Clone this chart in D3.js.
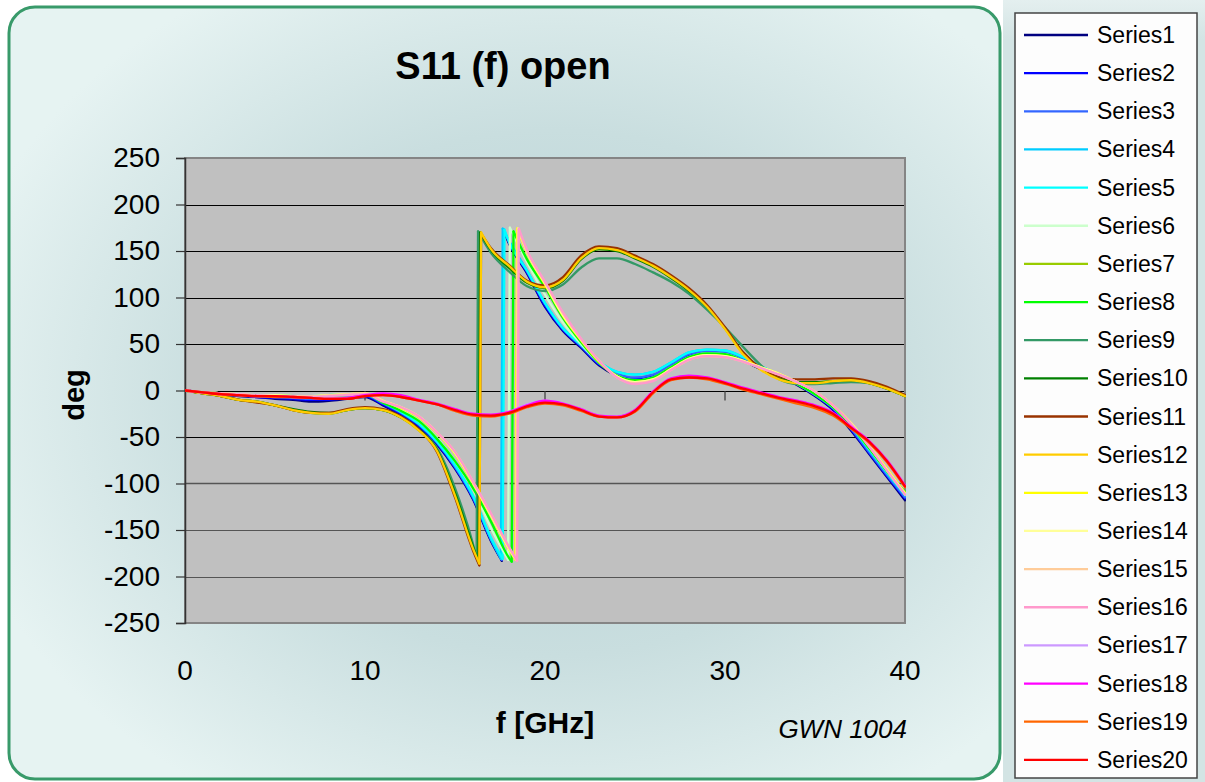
<!DOCTYPE html>
<html><head><meta charset="utf-8">
<script src="https://cdn.jsdelivr.net/npm/d3@7"></script>
<style>
body{margin:0;background:#fff;}
svg{display:block;font-family:"Liberation Sans",Arial,sans-serif;}
</style>
</head><body>
<svg id="chart" width="1205" height="782"></svg>
<script>
// Frequency grid (GHz) shared by all traces
const freqGHz = [0,1,2,3,4,5,6,7,8,9,10,11,12,13,14,15,16,17,18,19,20,21,22,23,24,25,26,27,28,29,30,31,32,33,34,35,36,37,38,39,40];
const yTicks = [250,200,150,100,50,0,-50,-100,-150,-200,-250];
const xTicks = [0,10,20,30,40];

const seriesNames = ["Series1","Series2","Series3","Series4","Series5","Series6","Series7","Series8","Series9","Series10",
  "Series11","Series12","Series13","Series14","Series15","Series16","Series17","Series18","Series19","Series20"];
const seriesColors = ["#000080","#0000ff","#3366ff","#00ccff","#00ffff","#ccffcc","#99cc00","#00ff00","#339966","#008000",
  "#993300","#ffcc00","#ffff00","#ffff99","#ffcc99","#ff99cc","#cc99ff","#ff00ff","#ff6600","#ff0000"];

// Phase in degrees on the frequency grid; null where the phase wraps between samples
const s1  = [0,-2,-4,-6,-7,-9,-10,-12,-11,-9,-7,-16,-26,-39,-58,-84,-117,-162,158,126,90,64,46,27,16,12,15,26,37,40,39,32,23,15,6,-6,-21,-43,-68,-93,-118];
const s2  = [0,-2,-4,-5,-7,-8,-9,-10,-10,-8,-6,-15,-25,-38,-57,-83,-116,-161,159,127,91,65,47,28,17,13,16,27,38,41,40,33,24,16,7,-5,-20,-42,-67,-92,-116];
const s3  = [0,-2,-3,-5,-6,-7,-8,-9,-8,-7,-5,-14,-24,-37,-56,-82,-115,-160,160,128,93,66,48,29,18,14,17,28,39,42,41,34,25,16,7,-5,-19,-41,-66,-91,-115];
const s4  = [0,-2,-3,-4,-5,-6,-6,-6,-5,-4,-4,-13,-23,-36,-55,-81,-114,-160,161,129,94,67,49,31,20,17,20,30,41,44,43,36,26,17,8,-4,-18,-39,-64,-89,-113];
const s5  = [0,-2,-3,-4,-5,-5,-6,-6,-5,-4,-4,-13,-23,-36,-55,-80,-113,-158,160,129,94,67,49,31,20,17,20,30,41,44,43,36,26,17,8,-3,-17,-38,-63,-88,-112];
const s6  = [0,-2,-3,-4,-5,-6,-6,-6,-5,-5,-4,-12,-21,-33,-51,-76,-106,-148,null,138,103,73,50,30,16,11,14,25,36,40,39,32,24,16,7,-4,-18,-38,-62,-87,-110];
const s7  = [0,-3,-6,-10,-12,-16,-21,-24,-25,-21,-19,-21,-29,-43,-64,-111,-169,151,132,116,111,119,142,152,151,143,134,122,108,90,67,40,23,13,9,9,10,11,8,2,-6];
const s8  = [0,-2,-3,-5,-6,-6,-7,-7,-6,-5,-4,-13,-22,-33,-52,-76,-105,-141,-180,141,111,78,52,30,16,11,14,25,36,40,39,32,24,16,7,-4,-18,-38,-62,-87,-109];
const s9  = [0,-3,-6,-10,-12,-16,-21,-24,-25,-21,-19,-21,-28,-42,-62,-105,-165,148,128,112,107,114,132,142,142,136,127,117,104,87,68,47,27,12,7,7,8,9,8,2,-6];
const s10 = [0,-3,-6,-10,-12,-16,-20,-23,-24,-21,-19,-21,-29,-42,-64,-110,-168,151,132,116,110,118,141,152,150,142,133,121,107,90,67,41,23,13,9,9,10,11,8,2,-6];
const s11 = [0,-3,-6,-10,-13,-16,-21,-24,-24,-20,-18,-20,-28,-42,-66,-115,-172,153,135,118,113,122,145,155,153,145,136,124,110,92,68,41,24,15,12,12,13,13,10,4,-5];
const s12 = [0,-3,-6,-10,-12,-16,-21,-24,-25,-21,-19,-21,-29,-43,-65,-113,-170,152,134,117,111,119,142,153,151,143,134,122,108,90,66,39,22,12,8,8,10,11,8,2,-6];
const s13 = [0,-2,-3,-4,-5,-5,-6,-6,-5,-4,-3,-11,-19,-29,-46,-68,-100,-135,-171,148,114,80,54,31,15,9,12,23,34,38,37,32,25,18,9,-1,-16,-35,-59,-84,-110];
const s14 = [0,-2,-3,-4,-5,-5,-6,-6,-5,-4,-3,-11,-18,-28,-45,-67,-99,-134,-170,149,115,81,55,32,15,9,12,23,34,38,37,32,25,18,9,-1,-16,-35,-59,-85,-111];
const s15 = [0,-2,-3,-4,-5,-6,-6,-6,-5,-4,-3,-11,-18,-28,-45,-66,-98,-133,-169,150,116,83,55,32,14,8,11,22,33,37,36,31,24,17,9,-1,-16,-36,-60,-86,-112];
const s16 = [0,-2,-3,-4,-5,-6,-7,-7,-6,-5,-4,-12,-18,-28,-45,-66,-98,-132,-168,151,117,84,56,32,14,7,10,22,33,37,36,31,24,17,9,-1,-16,-36,-60,-86,-112];
const s17 = [0,-2,-4,-5,-6,-6,-7,-8,-8,-8,-6,-4,-6,-10,-15,-21,-26,-27,-23,-15,-11,-14,-21,-28,-29,-22,-2,12,15,13,8,2,-3,-8,-12,-17,-25,-40,-55,-76,-103];
const s18 = [0,-2,-4,-5,-6,-6,-7,-8,-9,-8,-5,-3,-5,-10,-14,-20,-25,-26,-23,-16,-11,-14,-20,-27,-28,-21,-1,13,16,14,9,3,-2,-7,-11,-16,-24,-39,-54,-75,-102];
const s19 = [0,-2,-4,-5,-6,-7,-7,-8,-9,-9,-6,-5,-7,-11,-15,-22,-27,-28,-25,-18,-14,-16,-22,-28,-29,-23,-3,11,14,12,7,1,-4,-9,-14,-19,-27,-41,-56,-77,-104];
const s20 = [0,-2,-4,-5,-6,-6,-7,-8,-9,-9,-6,-5,-7,-11,-15,-21,-26,-27,-24,-17,-13,-15,-21,-28,-29,-22,-2,12,14,13,8,2,-3,-8,-12,-17,-25,-40,-55,-76,-103];

// Phase wrap of each trace: [f before, deg before, f after, deg after]
const wraps = [
  [17.6,-183,17.7,172],[17.6,-182,17.7,173],[17.6,-182,17.7,173],[17.55,-181,17.65,174],[17.65,-181,17.75,173],
  [17.95,-182,18.05,175],[16.3,-185,16.4,169],[18.15,-184,18.25,171],[16.2,-180,16.28,171],[16.3,-184,16.4,170],
  [16.35,-188,16.45,169],[16.35,-186,16.45,170],[18.35,-182,18.45,174],[18.4,-182,18.5,174],[18.4,-182,18.5,173],
  [18.45,-183,18.55,174],null,null,null,null
];

const seriesValues = [s1,s2,s3,s4,s5,s6,s7,s8,s9,s10,s11,s12,s13,s14,s15,s16,s17,s18,s19,s20];

const svg = d3.select("#chart");
const defs = svg.append("defs");

// chart-area background
const rg = defs.append("radialGradient").attr("id","bgGrad")
  .attr("cx","0.55").attr("cy","0.5").attr("r","0.62");
rg.append("stop").attr("offset","0").attr("stop-color","#b4cfd3");
rg.append("stop").attr("offset","0.55").attr("stop-color","#c9dedf");
rg.append("stop").attr("offset","1").attr("stop-color","#e6f3f2");

const lg = defs.append("linearGradient").attr("id","panelGrad").attr("x1",0).attr("x2",0).attr("y1",0).attr("y2",1);
lg.append("stop").attr("offset","0").attr("stop-color","#e4efef");
lg.append("stop").attr("offset","0.05").attr("stop-color","#d3e4e4");
lg.append("stop").attr("offset","1").attr("stop-color","#d3e4e4");

svg.append("rect").attr("x",1003).attr("y",0).attr("width",202).attr("height",782).attr("fill","url(#panelGrad)");

svg.append("rect").attr("x",9).attr("y",7).attr("width",991).attr("height",772)
  .attr("rx",26).attr("ry",26)
  .attr("fill","url(#bgGrad)").attr("stroke","#389a6a").attr("stroke-width",3);

// plot area
const plot = {left:185, right:905, top:158, bottom:623};
const x = d3.scaleLinear().domain([0,40]).range([plot.left, plot.right]);
const y = d3.scaleLinear().domain([-250,250]).range([plot.bottom, plot.top]);

svg.append("rect").attr("x",plot.left).attr("y",plot.top)
  .attr("width",plot.right-plot.left).attr("height",plot.bottom-plot.top).attr("fill","#c0c0c0");

// horizontal gridlines
svg.append("g").selectAll("line").data(yTicks.filter(d => d > -250 && d < 250)).join("line")
  .attr("x1",plot.left).attr("x2",plot.right)
  .attr("y1",d => Math.round(y(d))+0.5).attr("y2",d => Math.round(y(d))+0.5)
  .attr("stroke",d => d >= -50 ? "#000" : "#555")
  .attr("stroke-width",d => d === -100 ? 1.6 : 1.2);

// plot border
svg.append("rect").attr("x",plot.left).attr("y",plot.top)
  .attr("width",plot.right-plot.left).attr("height",plot.bottom-plot.top)
  .attr("fill","none").attr("stroke","#858585").attr("stroke-width",2);

// y axis
const yAxis = d3.axisLeft(y).tickValues(yTicks).tickSize(9).tickPadding(16).tickFormat(d => String(d));
const gy = svg.append("g").attr("transform",`translate(${plot.left},0)`).call(yAxis);
gy.select(".domain").attr("stroke","#333").attr("stroke-width",1.5);
gy.selectAll(".tick line").attr("stroke","#333").attr("stroke-width",1.2);
gy.selectAll(".tick text").attr("font-size",28).attr("fill","#000")
  .attr("font-family","Liberation Sans, Arial, sans-serif");

// x axis ticks on the zero line, labels along the bottom
const y0 = Math.round(y(0))+0.5;
svg.append("g").selectAll("line").data(xTicks.filter(d => d > 0 && d < 40)).join("line")
  .attr("x1",d => x(d)).attr("x2",d => x(d)).attr("y1",y0).attr("y2",y0+9)
  .attr("stroke","#555").attr("stroke-width",1.5);
svg.append("g").selectAll("text").data(xTicks).join("text")
  .attr("x",d => x(d)).attr("y",680).attr("text-anchor","middle")
  .attr("font-size",28).attr("fill","#000").text(d => String(d));

// traces
const clip = defs.append("clipPath").attr("id","plotClip");
clip.append("rect").attr("x",plot.left).attr("y",plot.top-4)
  .attr("width",plot.right-plot.left+1).attr("height",plot.bottom-plot.top+8);

const line = d3.line().x(d => x(d[0])).y(d => y(d[1])).curve(d3.curveMonotoneX);

const traces = svg.append("g").attr("clip-path","url(#plotClip)");
seriesValues.forEach((vals, i) => {
  const w = wraps[i];
  const pts = freqGHz.map((f, k) => [f, vals[k]]).filter(p => p[1] !== null);
  const g = traces.append("g");
  const style = sel => sel.attr("fill","none").attr("stroke",seriesColors[i])
    .attr("stroke-width",2.3).attr("stroke-linejoin","round").attr("stroke-linecap","round");
  if (!w) {
    g.append("path").attr("d", line(pts)).call(style);
  } else {
    const before = pts.filter(p => p[0] < w[0]).concat([[w[0], w[1]]]);
    const after = [[w[2], w[3]]].concat(pts.filter(p => p[0] > w[2]));
    g.append("path").attr("d", line(before)).call(style);
    g.append("path").attr("d", d3.line().x(d => x(d[0])).y(d => y(d[1]))([[w[0],w[1]],[w[2],w[3]]])).call(style);
    g.append("path").attr("d", line(after)).call(style);
  }
});

// titles
svg.append("text").attr("x",503).attr("y",79).attr("text-anchor","middle")
  .attr("font-size",38).attr("font-weight","bold").text("S11 (f) open");
svg.append("text").attr("transform","translate(84,395) rotate(-90)").attr("text-anchor","middle")
  .attr("font-size",29).attr("font-weight","bold").text("deg");
svg.append("text").attr("x",545).attr("y",733).attr("text-anchor","middle")
  .attr("font-size",30).attr("font-weight","bold").text("f [GHz]");
svg.append("text").attr("x",907).attr("y",738).attr("text-anchor","end")
  .attr("font-size",26).attr("font-style","italic").text("GWN 1004");

// legend
svg.append("rect").attr("x",1015).attr("y",13).attr("width",182).attr("height",765)
  .attr("fill","#fdfdfd").attr("stroke","#444").attr("stroke-width",1.5);
const leg = svg.append("g").selectAll("g").data(seriesNames).join("g")
  .attr("transform",(d,i) => `translate(0,${35 + i*38.15})`);
leg.append("line").attr("x1",1024).attr("x2",1088).attr("y1",0).attr("y2",0)
  .attr("stroke",(d,i) => seriesColors[i]).attr("stroke-width",2.3);
leg.append("text").attr("x",1097).attr("y",8).attr("font-size",23).attr("fill","#000").text(d => d);
</script>
</body></html>
